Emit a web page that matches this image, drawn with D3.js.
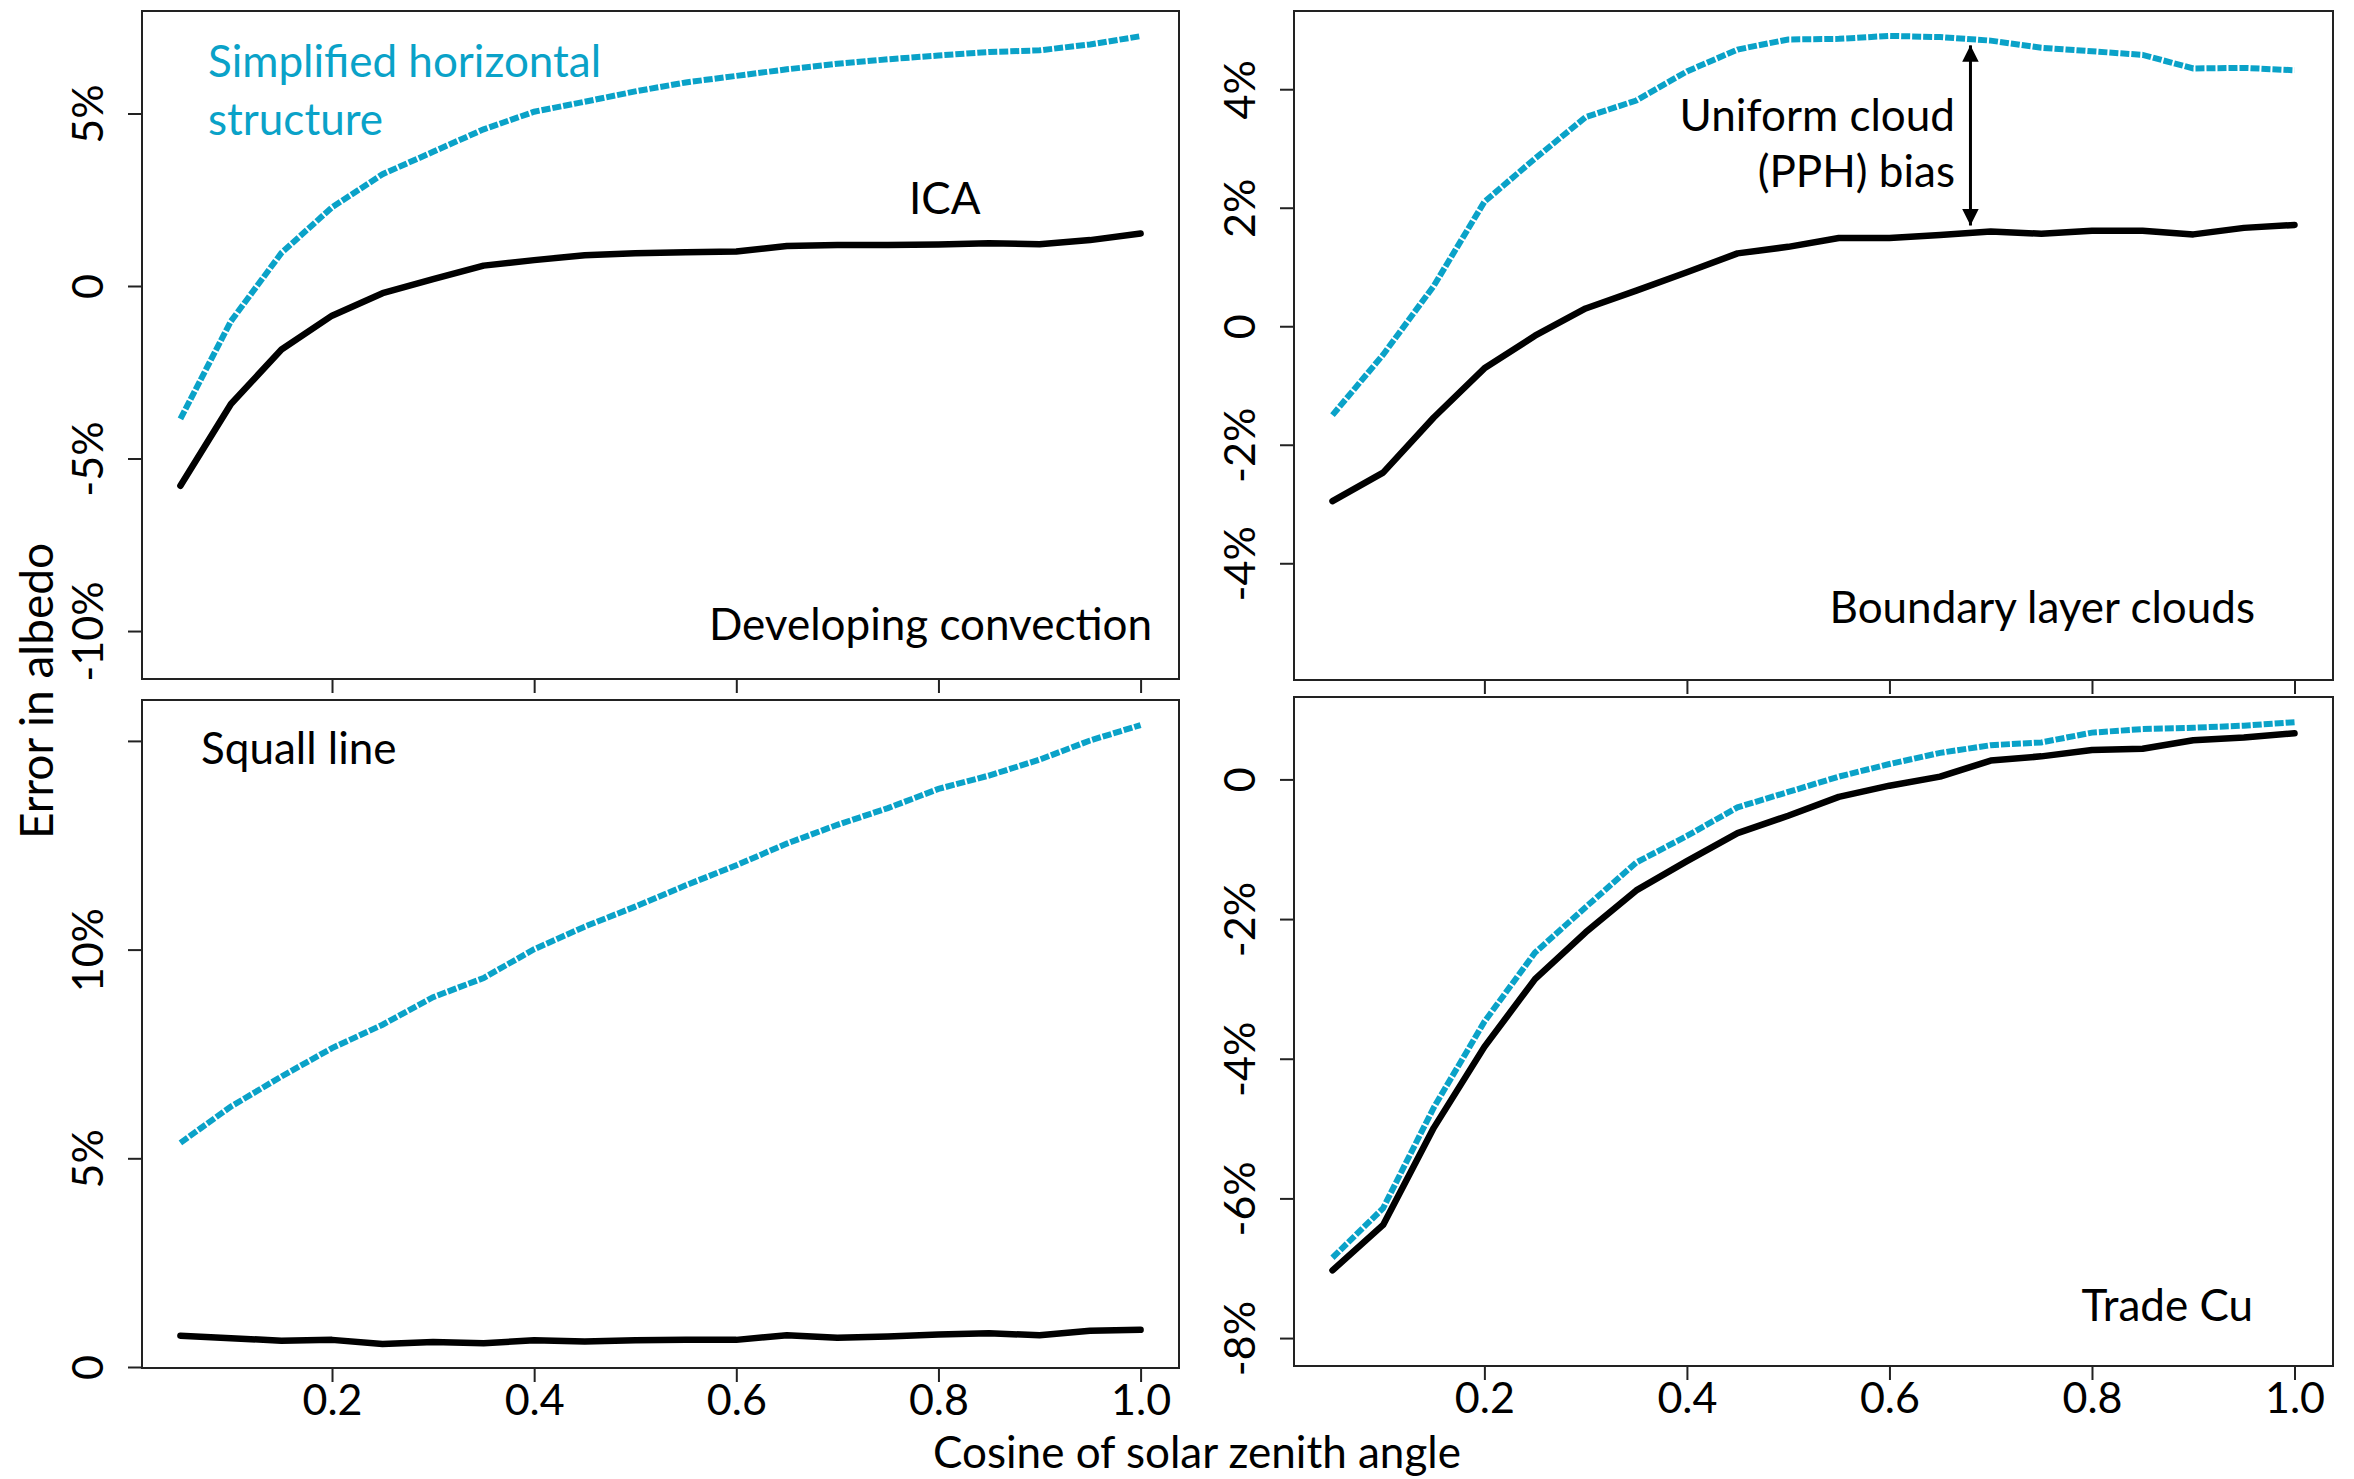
<!DOCTYPE html>
<html>
<head>
<meta charset="utf-8">
<script src="https://cdn.jsdelivr.net/npm/d3@7"></script>
<style>
  body { margin: 0; background: #fff; }
  svg text { font-family: Lato, "Open Sans", sans-serif; fill: #000; }
</style>
</head>
<body>
<svg id="chart" width="2354" height="1479"></svg>
<script>
// Cosine of the solar zenith angle at which the albedo errors were computed
const cosSZA = [0.05, 0.10, 0.15, 0.20, 0.25, 0.30, 0.35, 0.40, 0.45, 0.50,
                0.55, 0.60, 0.65, 0.70, 0.75, 0.80, 0.85, 0.90, 0.95, 1.00];

// Albedo error (%) of the ICA and of the simplified horizontal structure, per cloud scene
const devConvICA = [-5.79, -3.42, -1.84, -0.86, -0.21, 0.20, 0.59, 0.75, 0.89, 0.95,
                    0.98, 1.00, 1.16, 1.19, 1.19, 1.20, 1.24, 1.21, 1.33, 1.52];
const devConvSHS = [-3.85, -1.02, 0.96, 2.28, 3.24, 3.89, 4.54, 5.05, 5.34, 5.64,
                    5.90, 6.09, 6.28, 6.44, 6.57, 6.68, 6.78, 6.83, 7.00, 7.24];

const blCloudICA = [-2.95, -2.47, -1.54, -0.71, -0.16, 0.30, 0.60, 0.91, 1.23, 1.34,
                    1.49, 1.49, 1.54, 1.60, 1.56, 1.61, 1.61, 1.55, 1.66, 1.71];
const blCloudSHS = [-1.50, -0.48, 0.68, 2.10, 2.83, 3.53, 3.81, 4.30, 4.67, 4.84,
                    4.85, 4.90, 4.88, 4.82, 4.70, 4.64, 4.58, 4.35, 4.36, 4.32];

const squallICA  = [0.75, 0.69, 0.63, 0.65, 0.55, 0.60, 0.57, 0.64, 0.61, 0.64,
                    0.65, 0.65, 0.76, 0.70, 0.73, 0.78, 0.81, 0.76, 0.87, 0.89];
const squallSHS  = [5.37, 6.24, 6.96, 7.64, 8.20, 8.86, 9.32, 10.01, 10.55, 11.03,
                    11.54, 12.02, 12.54, 12.99, 13.39, 13.85, 14.17, 14.55, 15.01, 15.38];

const tradeCuICA = [-7.03, -6.38, -4.99, -3.83, -2.86, -2.19, -1.59, -1.17, -0.77, -0.52,
                    -0.25, -0.09, 0.04, 0.27, 0.33, 0.42, 0.44, 0.56, 0.60, 0.66];
const tradeCuSHS = [-6.85, -6.14, -4.70, -3.47, -2.48, -1.83, -1.19, -0.81, -0.40, -0.18,
                    0.04, 0.22, 0.38, 0.49, 0.53, 0.67, 0.72, 0.74, 0.77, 0.82];

// Axis ticks
const xTicks = [0.2, 0.4, 0.6, 0.8, 1.0];
const devConvTicks = [-10, -5, 0, 5];
const blCloudTicks = [-4, -2, 0, 2, 4];
const squallTicks  = [0, 5, 10, 15];
const squallTickLabels = ["0", "5%", "10%", ""];
const tradeCuTicks = [-8, -6, -4, -2, 0];

const pctLabel = v => v === 0 ? "0" : `${v}%`;

const CYAN = "#0aa2c8";
const FONT = 44;

const svg = d3.select("#chart");

const panels = [
  { name: "Developing convection", box: [142, 11, 1179, 679], ydom: [-11.39, 7.97],
    ica: devConvICA, shs: devConvSHS, yticks: devConvTicks, ylabels: devConvTicks.map(pctLabel),
    xlabels: false },
  { name: "Boundary layer clouds", box: [1294, 11, 2333, 680], ydom: [-5.97, 5.32],
    ica: blCloudICA, shs: blCloudSHS, yticks: blCloudTicks, ylabels: blCloudTicks.map(pctLabel),
    xlabels: false },
  { name: "Squall line", box: [142, 700, 1179, 1368], ydom: [-0.024, 15.98],
    ica: squallICA, shs: squallSHS, yticks: squallTicks, ylabels: squallTickLabels,
    xlabels: true },
  { name: "Trade Cu", box: [1294, 697, 2333, 1366], ydom: [-8.40, 1.18],
    ica: tradeCuICA, shs: tradeCuSHS, yticks: tradeCuTicks, ylabels: tradeCuTicks.map(pctLabel),
    xlabels: true }
];

panels.forEach(p => {
  const [x0, y0, x1, y1] = p.box;
  p.x = d3.scaleLinear().domain([0.012, 1.038]).range([x0, x1]);
  p.y = d3.scaleLinear().domain(p.ydom).range([y1, y0]);
  const g = svg.append("g");

  // y axis with rotated labels
  const yAxis = d3.axisLeft(p.y).tickValues(p.yticks).tickSize(14)
    .tickFormat((d, i) => p.ylabels[i]);
  const ya = g.append("g").attr("transform", `translate(${x0},0)`).call(yAxis);
  ya.select(".domain").remove();
  ya.selectAll(".tick line").attr("stroke", "#222").attr("stroke-width", 2);
  ya.selectAll(".tick text")
    .attr("x", null).attr("dy", null)
    .attr("text-anchor", "middle")
    .attr("transform", "translate(-39,0) rotate(-90)")
    .style("font-size", "43px").attr("fill", "#000");

  // x axis (labels on the lower row only)
  const xAxis = d3.axisBottom(p.x).tickValues(xTicks).tickSize(14)
    .tickFormat(p.xlabels ? d3.format(".1f") : () => "");
  const xa = g.append("g").attr("transform", `translate(0,${y1})`).call(xAxis);
  xa.select(".domain").remove();
  xa.selectAll(".tick line").attr("stroke", "#222").attr("stroke-width", 2);
  xa.selectAll(".tick text").attr("y", 47).attr("dy", null)
    .style("font-size", "43px").attr("fill", "#000");

  // frame
  g.append("rect").attr("x", x0).attr("y", y0)
    .attr("width", x1 - x0).attr("height", y1 - y0)
    .attr("fill", "none").attr("stroke", "#222").attr("stroke-width", 2);

  const line = d3.line().x((d, i) => p.x(cosSZA[i])).y(d => p.y(d));

  g.append("path").datum(p.ica).attr("d", line)
    .attr("fill", "none").attr("stroke", "#000").attr("stroke-width", 6.5)
    .attr("stroke-linejoin", "round").attr("stroke-linecap", "round");

  g.append("path").datum(p.shs).attr("d", line)
    .attr("fill", "none").attr("stroke", CYAN).attr("stroke-width", 6)
    .attr("stroke-dasharray", "9 2");
});

const [pDev, pBL, pSq, pTC] = panels;

function label(txt, x, y, anchor, color) {
  svg.append("text").attr("x", x).attr("y", y)
    .attr("text-anchor", anchor || "start")
    .style("font-size", FONT + "px")
    .style("fill", color || "#000")
    .text(txt);
}

// scene names
label("Developing convection", 1152, 640, "end");
label("Boundary layer clouds", 2255, 623, "end");
label("Squall line", 201, 764, "start");
label("Trade Cu", 2253, 1321, "end");

// curve labels
label("Simplified horizontal", 208, 77, "start", CYAN);
label("structure", 208, 135, "start", CYAN);
label("ICA", 909, 214, "start");

// PPH bias annotation: double-headed arrow between the two curves
label("Uniform cloud", 1955, 131, "end");
label("(PPH) bias", 1955, 187, "end");

const defs = svg.append("defs");
defs.append("marker").attr("id", "head")
  .attr("viewBox", "0 0 10 10").attr("refX", 10).attr("refY", 5)
  .attr("markerWidth", 9.5).attr("markerHeight", 5.5)
  .attr("markerUnits", "strokeWidth")
  .attr("orient", "auto-start-reverse")
  .append("path").attr("d", "M0,0 L10,5 L0,10 Z").attr("fill", "#000");

const arrowX = pBL.x(0.68);
svg.append("line")
  .attr("x1", arrowX).attr("x2", arrowX)
  .attr("y1", pBL.y(4.74)).attr("y2", pBL.y(1.70))
  .attr("stroke", "#000").attr("stroke-width", 3)
  .attr("marker-start", "url(#head)").attr("marker-end", "url(#head)");

// shared axis titles
svg.append("text").attr("x", 1197).attr("y", 1468).attr("text-anchor", "middle")
  .style("font-size", "44px").text("Cosine of solar zenith angle");
svg.append("text").attr("transform", "translate(53,691) rotate(-90)")
  .attr("text-anchor", "middle")
  .style("font-size", "46px").text("Error in albedo");
</script>
</body>
</html>
